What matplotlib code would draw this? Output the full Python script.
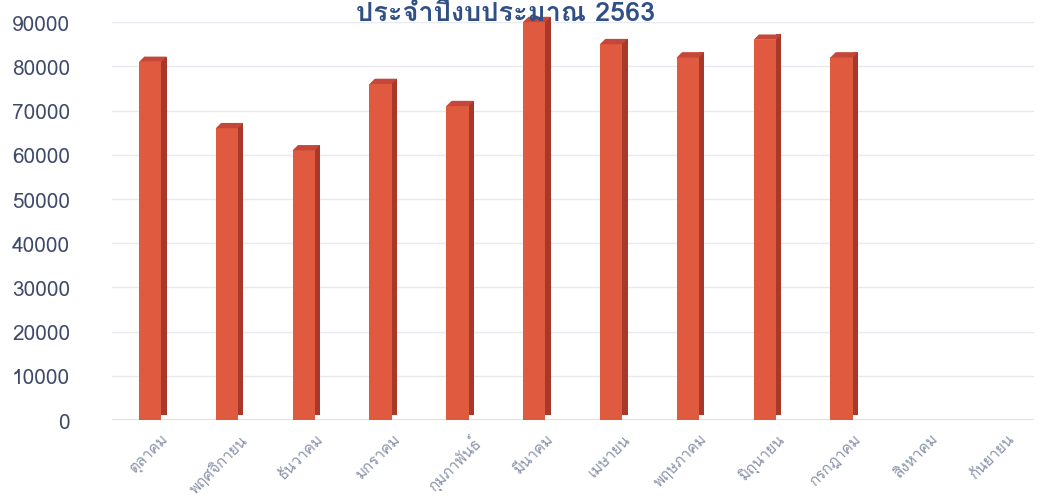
import matplotlib
matplotlib.use("Agg")
import matplotlib.pyplot as plt
from matplotlib import font_manager
from matplotlib.ft2font import FT2Font
import numpy as np

months = ["ตุลาคม", "พฤศจิกายน", "ธันวาคม", "มกราคม", "กุมภาพันธ์", "มีนาคม",
          "เมษายน", "พฤษภาคม", "มิถุนายน", "กรกฎาคม", "สิงหาคม", "กันยายน"]
values = [81000, 66000, 61000, 76000, 71000, 90000, 85000, 82000, 86000, 82000, 0, 0]
yticks = [0, 10000, 20000, 30000, 40000, 50000, 60000, 70000, 80000, 90000]
title = "ประจำปีงบประมาณ 2563"

# find a family with Thai glyphs
thai_fams = []
for f in font_manager.fontManager.ttflist:
    try:
        cm = FT2Font(f.fname).get_charmap()
        if 0x0E01 in cm and f.name not in thai_fams:
            thai_fams.append(f.name)
    except Exception:
        pass
fams = thai_fams[:1] + ["DejaVu Sans"]
plt.rcParams["font.family"] = fams

fig = plt.figure(figsize=(10.44, 5.02), dpi=100)
ax = fig.add_axes([0.107, 0.161, 0.883, 0.793])

x = np.arange(len(months))
w = 0.29
sw = 0.07
depth = 1200
ax.bar(x, values, width=w, color="#E05A40", zorder=3, clip_on=False)
ax.bar(x + w / 2 + sw / 2, values, width=sw, bottom=depth, color="#A8392A",
       zorder=2, clip_on=False)
# top faces
for xi, v in zip(x, values):
    if v > 0:
        ax.fill([xi - w / 2, xi + w / 2, xi + w / 2 + sw, xi - w / 2 + sw],
                [v, v, v + depth, v + depth], color="#C4473A", zorder=4, lw=0,
                clip_on=False)

ax.set_xlim(-0.5, len(months) - 0.5)
ax.set_ylim(0, 90000)
ax.set_yticks(yticks)
ax.set_yticklabels([str(t) for t in yticks], color="#3F4A6B", fontsize=15)
ax.set_xticks(x + 0.16)
ax.set_xticklabels(months, rotation=45, ha="right", rotation_mode="anchor",
                   color="#8A93AA", fontsize=11)
ax.tick_params(axis="x", length=0, pad=8)
ax.tick_params(axis="y", length=0, pad=30)
ax.grid(axis="y", color="#E8EAF0", linewidth=1, zorder=0)
for s in ax.spines.values():
    s.set_visible(False)
ax.axhline(0, color="#D5D9E3", linewidth=1.2, zorder=1)

fig.text(0.484, 0.997, title, ha="center", va="top", fontsize=19.5, color="#2F4F86",
         fontweight="bold", family=fams)

fig.savefig("out.png", dpi=100)
